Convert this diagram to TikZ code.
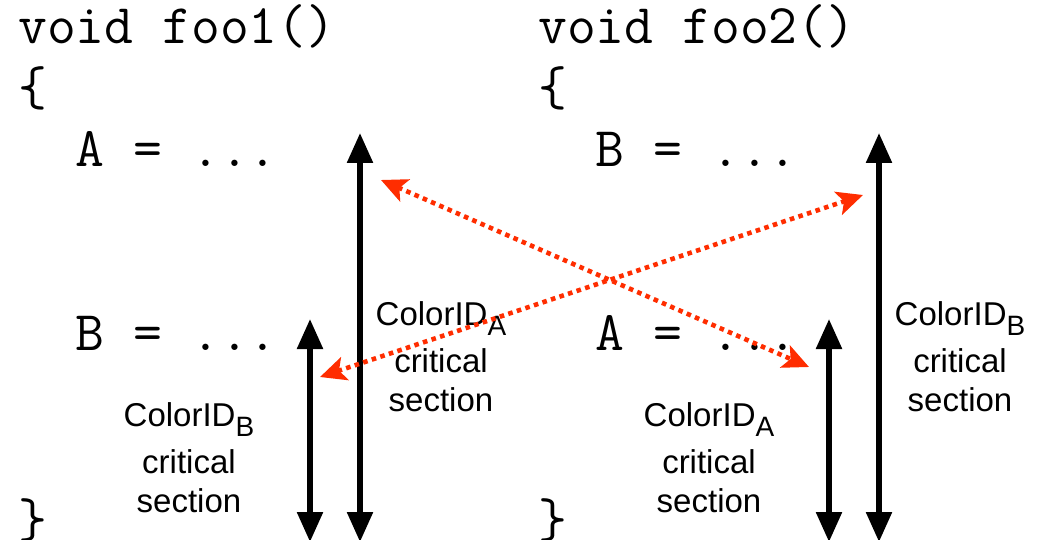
\documentclass[tikz,border=0pt]{standalone}
\usepackage{fontspec}
\setmainfont{Liberation Sans}
\usetikzlibrary{positioning}
\usetikzlibrary{arrows.meta}
\definecolor{lockred}{RGB}{255,45,0}

\newcommand{\cid}[1]{ColorID\raisebox{-10pt}{\fontsize{28}{28}\selectfont #1}}

\begin{document}
\begin{tikzpicture}[x=1pt, y=-1pt,
  code/.style={anchor=base west, inner sep=0pt, font=\fontsize{56}{56}\selectfont\ttfamily},
  crit/.style={align=center, inner sep=0pt, font=\fontsize{33}{39}\selectfont},
  span/.style={{Triangle[length=30pt, width=25pt]}-{Triangle[length=30pt, width=25pt]}, line width=5.5pt, black},
  race/.style={{Stealth[length=26pt, width=24pt, inset=6pt]}-{Stealth[length=26pt, width=24pt, inset=6pt]}, line width=4.6pt, lockred, dash pattern=on 4.6pt off 4.4pt}]
\useasboundingbox (0,0) rectangle (1044,540);

% first function
\node[code] (fooOneSig) at (18,44) {void foo1()};
\node[code] (fooOneOpen) at (18,106) {\{};
\node[code] (fooOneA) at (18,167) {\ \ A = ...};
\node[code] (fooOneB) at (18,350) {\ \ B = ...};
\node[code] (fooOneClose) at (18,537) {\}};

% second function
\node[code] (fooTwoSig) at (538,44) {void foo2()};
\node[code] (fooTwoOpen) at (538,106) {\{};
\node[code] (fooTwoB) at (538,167) {\ \ B = ...};
\node[code] (fooTwoA) at (538,350) {\ \ A = ...};
\node[code] (fooTwoClose) at (538,537) {\}};

% critical sections
\coordinate (secOneAtop) at (360,133);
\coordinate (secOneAbot) at (360,542);
\coordinate (secOneBtop) at (310,319);
\coordinate (secOneBbot) at (310,542);
\coordinate (secTwoBtop) at (879,133);
\coordinate (secTwoBbot) at (879,542);
\coordinate (secTwoAtop) at (829,319);
\coordinate (secTwoAbot) at (829,542);

\draw[span] (secOneAtop) -- (secOneAbot);
\draw[span] (secOneBtop) -- (secOneBbot);
\draw[span] (secTwoBtop) -- (secTwoBbot);
\draw[span] (secTwoAtop) -- (secTwoAbot);

\node[crit] (labOneA) at (441,357) {\cid{A}\\[8pt]critical\\section};
\node[crit] (labOneB) at (189,458) {\cid{B}\\[8pt]critical\\section};
\node[crit] (labTwoB) at (960,357) {\cid{B}\\[8pt]critical\\section};
\node[crit] (labTwoA) at (709,458) {\cid{A}\\[8pt]critical\\section};

% conflicting accesses
\coordinate (raceAleft) at (381,180);
\coordinate (raceAright) at (809,367);
\coordinate (raceBleft) at (320,377);
\coordinate (raceBright) at (863,195);

\draw[race] (raceAleft) -- (raceAright);
\draw[race] (raceBleft) -- (raceBright);
\end{tikzpicture}
\end{document}
